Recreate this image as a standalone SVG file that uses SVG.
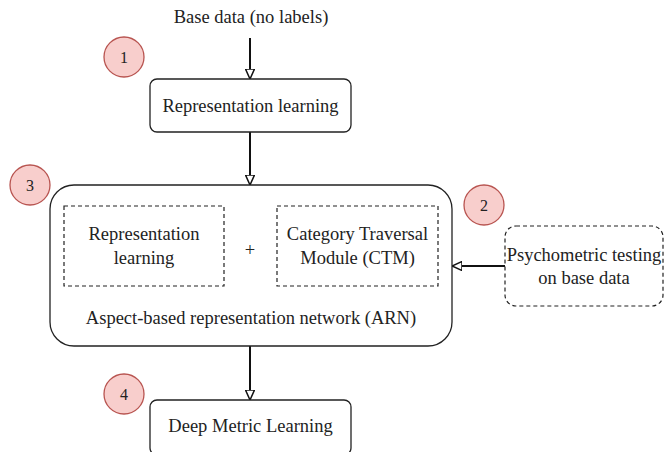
<svg xmlns="http://www.w3.org/2000/svg" width="664" height="452" viewBox="0 0 664 452">
<style>
text{font-family:"Liberation Serif","Times New Roman",serif;font-size:18.5px;fill:#222;text-anchor:middle}
.badge text{font-size:16px}
.box{fill:#fff;stroke:#222;stroke-width:1.3}
.dash{fill:#fff;stroke:#222;stroke-width:1.2;stroke-dasharray:4 3}
.badge circle{fill:#f8cecc;stroke:#b85450;stroke-width:1.3}
.edge{stroke:#111;stroke-width:2;fill:none}
</style>
<defs>
<marker id="ah" viewBox="0 0 10 10" refX="10" refY="5" markerWidth="5" markerHeight="5" orient="auto" markerUnits="strokeWidth">
<path d="M0,0.5 L10,5 L0,9.5 Z" fill="#fff" stroke="#111" stroke-width="1.5"/>
</marker>
</defs>
<rect width="664" height="452" fill="#fff"/>
<g id="connectors">
<path class="edge" d="M250,38 V79" marker-end="url(#ah)"/>
<path class="edge" d="M250,132 V185" marker-end="url(#ah)"/>
<path class="edge" d="M505,266 H452" marker-end="url(#ah)"/>
<path class="edge" d="M250,346 V400" marker-end="url(#ah)"/>
</g>
<g id="base-data"><text x="251" y="23">Base data (no labels)</text></g>
<g id="rep-learning"><rect class="box" x="150" y="79" width="201" height="53" rx="7"/><text x="250.5" y="112">Representation learning</text></g>
<g id="arn"><rect class="box" x="50" y="185" width="402" height="161" rx="24"/><text x="251" y="324">Aspect-based representation network (ARN)</text></g>
<g id="arn-rep"><rect class="dash" x="64" y="206" width="160" height="80"/><text x="144" y="240">Representation</text><text x="144" y="264">learning</text></g>
<g id="plus"><text x="250" y="256" fill="#444">+</text></g>
<g id="ctm"><rect class="dash" x="277" y="206" width="161" height="80"/><text x="357.5" y="240">Category Traversal</text><text x="357.5" y="264">Module (CTM)</text></g>
<g id="psycho"><rect class="dash" x="505" y="226" width="158" height="80" rx="11"/><text x="584" y="261">Psychometric testing</text><text x="584" y="284">on base data</text></g>
<g id="dml"><rect class="box" x="150" y="400" width="201" height="55" rx="7"/><text x="250.5" y="432">Deep Metric Learning</text></g>
<g id="badge1" class="badge"><circle cx="124" cy="57" r="20"/><text x="124" y="63">1</text></g>
<g id="badge2" class="badge"><circle cx="484" cy="205" r="20"/><text x="484" y="211">2</text></g>
<g id="badge3" class="badge"><circle cx="30" cy="185" r="20"/><text x="30" y="191">3</text></g>
<g id="badge4" class="badge"><circle cx="124" cy="394" r="20"/><text x="124" y="400">4</text></g>
</svg>
